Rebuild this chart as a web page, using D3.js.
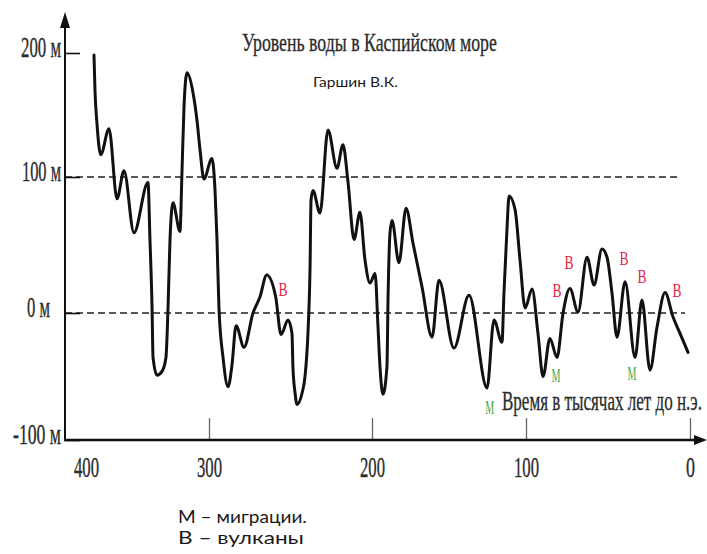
<!DOCTYPE html>
<html>
<head>
<meta charset="utf-8">
<script src="https://cdn.jsdelivr.net/npm/d3@7"></script>
<style>
  html, body { margin: 0; padding: 0; background: #fff; }
  svg { display: block; }
</style>
</head>
<body>
<svg id="chart" width="707" height="554"></svg>
<script>
// Caspian Sea level, thousands of years BC (x) vs metres (y)
const years = [393.5, 392.7, 391.1, 388, 381.3, 374.8, 369.1, 361, 349.6, 348, 346.3, 345.5, 342.3, 338.2, 335, 333.3, 331.7, 329.3, 323.6, 322, 320.3, 317.9, 313, 309.8, 307.3, 304.1, 298.2, 296.3, 295.1, 293.9, 291.4, 288.3, 285.9, 283.4, 278.5, 273, 268.7, 264.6, 259.1, 255.8, 251.5, 249.1, 248.5, 247.2, 246, 242.9, 241.1, 239.3, 238, 237.4, 236.2, 231.9, 227, 221.5, 217.8, 214.7, 211, 207.4, 204.3, 201.2, 198, 196.1, 194.8, 192.9, 190.3, 189.6, 188.3, 187, 182.5, 177.9, 173.4, 167.5, 161, 156.5, 146.8, 137, 125.3, 120.8, 115.6, 114.3, 112.3, 111, 107.1, 103.9, 100.6, 96.3, 92.7, 89.6, 85.4, 81.1, 77.4, 73.2, 68.3, 62.8, 58.5, 53.7, 50.6, 47.6, 44.5, 39.6, 33.5, 29.3, 24.4, 20.1, 15.2, 10.4, 6.1, 1.2];
const levels = [198.4, 170, 143.5, 118, 139, 84, 105, 59, 96, 54, 4, -35, -49, -46, -35, 4, 54, 81, 60, 103, 157, 184, 168, 146, 122, 98.5, 115, 90, 54, 4, -35, -58, -41, -10, -27, 0, 12, 28, 12, -17, -5.5, -16, -42.5, -63, -72, -63, -50, -16, 34, 83, 90, 73.5, 138, 107, 126, 96, 54, 74, 39, 22, 29, -11, -42.5, -64, -42.5, 9.6, 59, 68, 37, 77, 51.5, 19, -19, 24, -27.6, 13, -59, -5.5, -23, 15, 63, 86, 76, 39, 3.7, 17.6, -16, -50, -20, -35, 0, 18, 0.7, 41, 20.6, 47, 41, 15, -19, 23, -35, 9.6, -45, -11, 15, -3, -16, -31];

const xTicks = [400, 300, 200, 100, 0];
const yTicks = [200, 100, 0, -100];
const yTickLabels = ["200 м", "100 м", "0 м", "-100 м"];

// dashed reference levels and the year where each dash line stops
const refLevels = [100, 0];
const refEnds = [6, 3];

// event marks: В – volcanoes, М – migrations
const markerYears  = [254.6, 123.5, 81.7, 81.1, 73.8, 40.2, 29.3, 35.4, 7.9];
const markerLevels = [17.6, -74.8, -49.6, 16.2, 37.5, 40.4, 26.5, -48, 16.9];
const markerKinds  = ["В", "М", "М", "В", "В", "В", "В", "М", "В"];

const titleText = "Уровень воды в Каспийском море";
const authorText = "Гаршин В.К.";
const xAxisTitle = "Время в тысячах лет до н.э.";
const legendLines = ["М – миграции.", "В – вулканы"];

const svg = d3.select("#chart");
const serif = "'Liberation Serif', 'Times New Roman', serif";
const sans = "Lato, 'Open Sans', sans-serif";

const axisLeftX = 65;
const axisBottomY = 440;

// hand-drawn axes are not evenly spaced, so the scales are piecewise
const x = d3.scaleLinear().domain([400, 300, 200, 100, 0]).range([86, 209, 372, 526, 690]);
const y = d3.scaleLinear().domain([-100, 0, 100, 200]).range([440, 313, 177, 53]);

// place a start-anchored text at (px, py) and squeeze it horizontally to a given width
function condensed(parent, str, px, py, width, attrs) {
  const t = parent.append("text").attr("x", 0).attr("y", 0).text(str);
  Object.entries(attrs).forEach(([k, v]) => t.attr(k, v));
  const natural = t.node().getComputedTextLength();
  t.attr("transform", `translate(${px},${py}) scale(${width / natural},1)`);
  return t;
}

// dashed reference lines
svg.append("g").selectAll("line")
  .data(refLevels)
  .join("line")
  .attr("x1", axisLeftX)
  .attr("x2", (d, i) => x(refEnds[i]))
  .attr("y1", d => y(d))
  .attr("y2", d => y(d))
  .attr("stroke", "#222")
  .attr("stroke-width", 1.6)
  .attr("stroke-dasharray", "7,4");

// x axis ticks and labels
const gx = svg.append("g")
  .attr("transform", `translate(0,${axisBottomY})`)
  .call(d3.axisBottom(x).tickValues(xTicks).tickFormat(d3.format("d")).tickSize(-22).tickPadding(16));
gx.select(".domain").remove();
gx.selectAll(".tick line").attr("stroke", "#666").attr("stroke-width", 1.3);
gx.selectAll(".tick").filter(d => d === 400).select("line").remove();
gx.selectAll(".tick text")
  .attr("font-family", serif)
  .attr("font-size", 30)
  .attr("fill", "#2b2b2b")
  .attr("stroke", "#2b2b2b").attr("stroke-width", 0.35)
  .attr("textLength", d => d === 0 ? 9 : 25)
  .attr("lengthAdjust", "spacingAndGlyphs");

// y axis ticks and labels
const gy = svg.append("g")
  .attr("transform", `translate(${axisLeftX},0)`)
  .call(d3.axisLeft(y).tickValues(yTicks).tickFormat((d, i) => yTickLabels[i]).tickSize(-15).tickPadding(4));
gy.select(".domain").remove();
gy.selectAll(".tick line").attr("stroke", "#111").attr("stroke-width", 1.6);
gy.selectAll(".tick text")
  .attr("font-family", serif)
  .attr("font-size", 30)
  .attr("fill", "#2b2b2b")
  .attr("stroke", "#2b2b2b").attr("stroke-width", 0.35)
  .attr("dy", 3)
  .attr("textLength", d => ({200: 40, 100: 39, 0: 23, "-100": 48})[d])
  .attr("lengthAdjust", "spacingAndGlyphs");
gy.selectAll(".tick").filter(d => d === 0).select("text").attr("x", -15);

// axis lines with arrow heads
svg.append("line")
  .attr("x1", axisLeftX).attr("x2", axisLeftX)
  .attr("y1", axisBottomY + 1).attr("y2", 24)
  .attr("stroke", "#111").attr("stroke-width", 2);
svg.append("path")
  .attr("d", `M${axisLeftX},12 L${axisLeftX - 5},28 L${axisLeftX + 5},28 Z`)
  .attr("fill", "#111");
svg.append("line")
  .attr("x1", axisLeftX - 1).attr("x2", 698)
  .attr("y1", axisBottomY).attr("y2", axisBottomY)
  .attr("stroke", "#111").attr("stroke-width", 2.6);
svg.append("path")
  .attr("d", `M707,${axisBottomY} L694,${axisBottomY - 5} L694,${axisBottomY + 5} Z`)
  .attr("fill", "#111");

// sea level curve
const pts = years.map((t, i) => [t, levels[i]]);
const line = d3.line()
  .x(d => x(d[0]))
  .y(d => y(d[1]))
  .curve(d3.curveMonotoneX);
svg.append("path")
  .datum(pts)
  .attr("d", line)
  .attr("fill", "none")
  .attr("stroke", "#111")
  .attr("stroke-width", 3)
  .attr("stroke-linejoin", "round")
  .attr("stroke-linecap", "round");

// event letters
svg.append("g").selectAll("text")
  .data(markerKinds)
  .join("text")
  .attr("x", (d, i) => x(markerYears[i]))
  .attr("y", (d, i) => y(markerLevels[i]) + 6.5)
  .attr("text-anchor", "middle")
  .attr("font-family", serif)
  .attr("font-size", 19)
  .attr("textLength", 9)
  .attr("lengthAdjust", "spacingAndGlyphs")
  .attr("fill", d => d === "В" ? "#e0244a" : "#35a853")
  .text(d => d);

const serifText = {"font-family": serif, "font-size": 26, "fill": "#2b2b2b", "stroke": "#2b2b2b", "stroke-width": 0.3};

// title block
condensed(svg, titleText, 242, 51, 255, serifText);
condensed(svg, authorText, 313, 87, 85, {"font-family": sans, "font-size": 14, "fill": "#1a1a1a"});

// x axis title
condensed(svg, xAxisTitle, 502, 410, 200, {...serifText, "font-size": 27});

// legend
legendLines.forEach((str, i) => {
  condensed(svg, str, 178, 523 + i * 21, i === 0 ? 129 : 126, {"font-family": sans, "font-size": 17, "fill": "#1a1a1a"});
});
</script>
</body>
</html>
